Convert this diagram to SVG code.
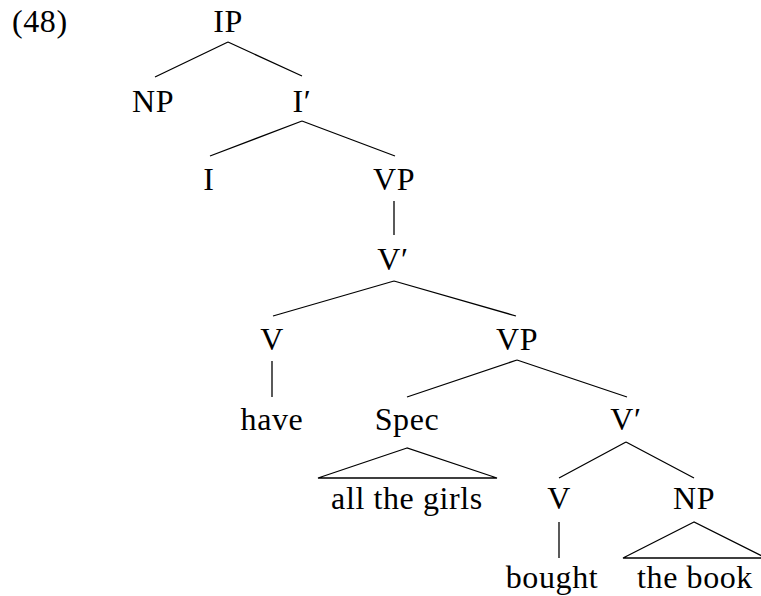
<svg xmlns="http://www.w3.org/2000/svg" width="761" height="596" viewBox="0 0 761 596">
<style>
text { font-size: 32px; fill: #000; text-anchor: middle; letter-spacing: 0.6px; }
.st { text-anchor: start; }
.ln { stroke: #000; stroke-width: 1.3; fill: none; }
</style>
<rect width="761" height="596" fill="#fff"/>
<g font-family="Liberation Serif">
<text x="12" y="32" class="st">(48)</text>
<g id="connectors">
<path class="ln" d="M228,42 L155,77 M228,42 L302,76"/>
<path class="ln" d="M302,121 L210,156 M302,121 L395,156"/>
<path class="ln" d="M394,201 L394,235"/>
<path class="ln" d="M394,281 L273,316 M394,281 L516,316"/>
<path class="ln" d="M272,361 L272,397"/>
<path class="ln" d="M517,360 L407,397 M517,360 L627,397"/>
<path class="ln" d="M407,448 L318,478 L497,478 Z"/>
<path class="ln" d="M626,442 L559,478 M626,442 L694,478"/>
<path class="ln" d="M559,522 L559,558"/>
<path class="ln" d="M694,522 L623,558 L766,558 Z"/>
</g>
<g id="n-IP"><text x="228" y="32">IP</text></g>
<g id="n-NP1"><text x="153" y="112">NP</text></g>
<g id="n-Ibar"><text x="302" y="112">I′</text></g>
<g id="n-I"><text x="209" y="190">I</text></g>
<g id="n-VP1"><text x="394" y="190">VP</text></g>
<g id="n-Vbar1"><text x="393" y="270">V′</text></g>
<g id="n-V1"><text x="272" y="350">V</text></g>
<g id="n-VP2"><text x="517" y="350">VP</text></g>
<g id="n-have"><text x="272" y="430">have</text></g>
<g id="n-Spec"><text x="407" y="430">Spec</text></g>
<g id="n-Vbar2"><text x="626" y="430">V′</text></g>
<g id="n-allthegirls"><text x="407" y="509">all the girls</text></g>
<g id="n-V2"><text x="559" y="509">V</text></g>
<g id="n-NP2"><text x="694" y="509">NP</text></g>
<g id="n-bought"><text x="552" y="588">bought</text></g>
<g id="n-thebook"><text x="695" y="588">the book</text></g>
</g>
</svg>
